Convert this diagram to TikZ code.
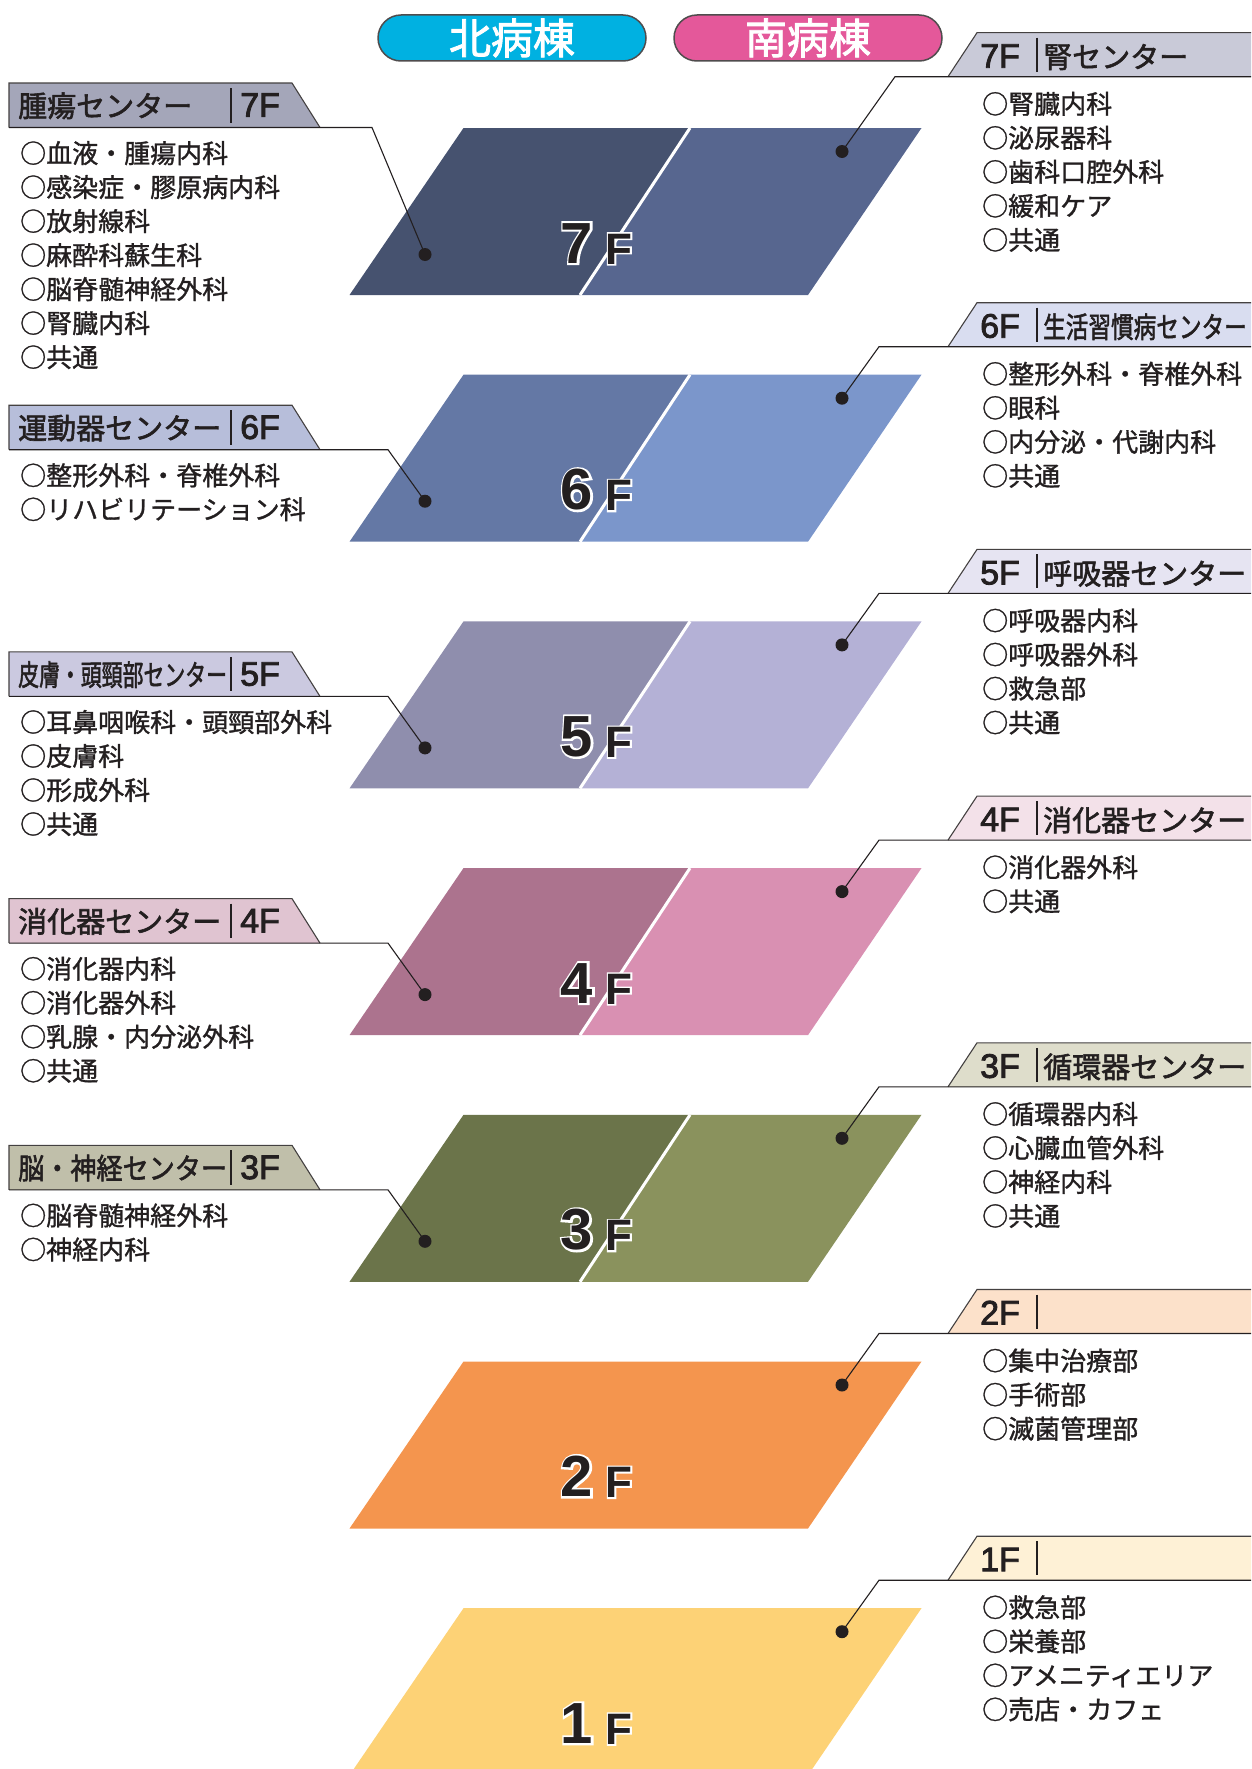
\documentclass[tikz,border=0pt]{standalone}
\usepackage{fontspec}
\usepackage{graphicx}
\setmainfont{Noto Sans CJK JP}
\newfontfamily\jpi{Noto Sans CJK JP}[FakeBold=1.2]
\newfontfamily\jpm{Noto Sans CJK JP}[FakeBold=2]
\newfontfamily\latf{Liberation Sans}[FakeBold=2.5]
\newfontfamily\digb{Liberation Sans Bold}
\newfontfamily\digw{Liberation Sans Bold}[FakeBold=7]
\usetikzlibrary{calc}

\definecolor{ink}{HTML}{231F20}
\definecolor{pblue}{HTML}{00B1E1}
\definecolor{ppink}{HTML}{E4589A}
\definecolor{f7L}{HTML}{46526F}\definecolor{f7R}{HTML}{57668F}
\definecolor{f6L}{HTML}{6478A5}\definecolor{f6R}{HTML}{7B96CB}
\definecolor{f5L}{HTML}{8F8EAD}\definecolor{f5R}{HTML}{B4B1D6}
\definecolor{f4L}{HTML}{AC738E}\definecolor{f4R}{HTML}{D990B2}
\definecolor{f3L}{HTML}{6B744A}\definecolor{f3R}{HTML}{8A925D}
\definecolor{f2}{HTML}{F4954E}
\definecolor{f1}{HTML}{FDD276}
\definecolor{b7L}{HTML}{A4A6B9}\definecolor{b7R}{HTML}{C9CAD8}
\definecolor{b6L}{HTML}{B7BEDA}\definecolor{b6R}{HTML}{D9DDF0}
\definecolor{b5L}{HTML}{CBC9E0}\definecolor{b5R}{HTML}{E6E4F2}
\definecolor{b4L}{HTML}{E0C4D1}\definecolor{b4R}{HTML}{F3E1E9}
\definecolor{b3L}{HTML}{C0BFAA}\definecolor{b3R}{HTML}{DEDDCB}
\definecolor{b2R}{HTML}{FCE1CA}
\definecolor{b1R}{HTML}{FEF1D6}

\newcommand\outl[1]{\makebox[0pt][l]{\digw\color{white}#1}\digb #1}

\newcommand\splitfloor[4]{%
  \fill[#3] (463.5,#1) -- (690,#1) -- (580,#2) -- (349.5,#2) -- cycle;
  \fill[#4] (690,#1) -- (921.5,#1) -- (808,#2) -- (580,#2) -- cycle;
  \draw[white,line width=3] (690,#1) -- (580,#2);}
\newcommand\wholefloor[3]{%
  \fill[#3] (463.5,#1) -- (921.5,#1) -- (808,#2) -- (349.5,#2) -- cycle;}

% id, top, bottom, bend x, dot y, fill, header text, floor text, items
\newcommand\leftgrp[9]{%
  \fill[#6] (9,#2) -- (292,#2) -- (320,#3) -- (9,#3) -- cycle;
  \draw[boxline] (320,#3) -- (292,#2) -- (9,#2) -- (9,#3);
  \coordinate (#1a) at (9,#3);
  \coordinate (#1b) at (320,#3);
  \coordinate (#1k) at (#4,#3);
  \node[fdot] (#1d) at (425,#5) {};
  \draw[conn] (#1a) -- (#1b) -- (#1k) -- (#1d.center);
  \pgfmathsetmacro\hb{(#2+#3)/2+11.5}
  \node[hdr] (#1h) at (18,\hb) {#7};
  \node[hdrlat] (#1f) at (240,\hb) {#8};
  \coordinate (#1u) at (231,#2+5);
  \coordinate (#1v) at (231,#3-5);
  \draw[vbar] (#1u) -- (#1v);
  \foreach \t [count=\i from 0] in {#9} {
    \pgfmathsetmacro\yy{#3+35.5+34*\i}
    \node[itm] (#1i\i) at (20,\yy) {○\t};
  }
}
% id, top, bottom, bend x, dot y, fill, floor text, header text, items
\newcommand\rightgrp[9]{%
  \fill[#6] (948,#3) -- (977,#2) -- (1260,#2) -- (1260,#3) -- cycle;
  \draw[boxline] (948,#3) -- (977,#2) -- (1260,#2);
  \coordinate (#1a) at (1260,#3);
  \coordinate (#1b) at (948,#3);
  \coordinate (#1k) at (#4,#3);
  \node[fdot] (#1d) at (842,#5) {};
  \draw[conn] (#1a) -- (#1b) -- (#1k) -- (#1d.center);
  \pgfmathsetmacro\hb{(#2+#3)/2+13}
  \node[hdrlat] (#1f) at (980,\hb) {#7};
  \coordinate (#1u) at (1037,#2+5);
  \coordinate (#1v) at (1037,#3-5);
  \draw[vbar] (#1u) -- (#1v);
  \node[hdr] (#1h) at (1043,\hb) {#8};
  \foreach \t [count=\i from 0] in {#9} {
    \pgfmathsetmacro\yy{#3+37+34*\i}
    \node[itm] (#1i\i) at (982,\yy) {○\t};
  }
}

\begin{document}
\begin{tikzpicture}[x=1pt,y=-1pt,
  hdr/.style={anchor=base west,inner sep=0,text=ink,font=\jpm\fontsize{29}{29}\selectfont},
  hdrlat/.style={anchor=base west,inner sep=0,text=ink,font=\latf\fontsize{34}{34}\selectfont},
  itm/.style={anchor=base west,inner sep=0,text=ink,font=\jpi\fontsize{26}{26}\selectfont},
  boxline/.style={draw=ink!85,line width=1.1},
  conn/.style={draw=ink,line width=1.1},
  vbar/.style={draw=ink,line width=1.8},
  fdot/.style={circle,fill=ink,inner sep=0,minimum size=13},
  pill/.style={draw=ink!80,line width=1.5,rounded corners=23,minimum width=268,minimum height=46,inner sep=0,text=white,font=\jpm\fontsize{42}{42}\selectfont},
  dig/.style={anchor=base,inner sep=0,text=ink,font=\fontsize{58}{58}\selectfont},
  fl/.style={anchor=base,inner sep=0,text=ink,font=\fontsize{44}{44}\selectfont}]
\useasboundingbox (0,0) rectangle (1251,1769);
\clip (0,0) rectangle (1251,1769);

% building headers
\node[pill,fill=pblue] (north) at (512,38) {北病棟};
\node[pill,fill=ppink] (south) at (808,38) {南病棟};

% floors
\splitfloor{128}{295}{f7L}{f7R}
\splitfloor{374.7}{541.7}{f6L}{f6R}
\splitfloor{621.4}{788.4}{f5L}{f5R}
\splitfloor{868.1}{1035.1}{f4L}{f4R}
\splitfloor{1114.8}{1281.8}{f3L}{f3R}
\wholefloor{1361.5}{1528.5}{f2}
\wholefloor{1608.2}{1775.2}{f1}

% floor numbers
\node[dig] (n7) at (577,263) {\outl{7}};      \node[fl] (m7) at (619,264) {\outl{F}};
\node[dig] (n6) at (577,509.7) {\outl{6}};    \node[fl] (m6) at (619,510.7) {\outl{F}};
\node[dig] (n5) at (577,756.4) {\outl{5}};    \node[fl] (m5) at (619,757.4) {\outl{F}};
\node[dig] (n4) at (577,1003.1) {\outl{4}};   \node[fl] (m4) at (619,1004.1) {\outl{F}};
\node[dig] (n3) at (577,1249.8) {\outl{3}};   \node[fl] (m3) at (619,1250.8) {\outl{F}};
\node[dig] (n2) at (577,1496.5) {\outl{2}};   \node[fl] (m2) at (619,1497.5) {\outl{F}};
\node[dig] (n1) at (577,1743.2) {\outl{1}};   \node[fl] (m1) at (619,1744.2) {\outl{F}};

% left (north ward) groups
\leftgrp{L7}{83}{127.5}{372}{254.5}{b7L}{腫瘍センター}{7F}{血液・腫瘍内科,感染症・膠原病内科,放射線科,麻酔科蘇生科,脳脊髄神経外科,腎臓内科,共通}
\leftgrp{L6}{405.2}{449.7}{388}{501.2}{b6L}{運動器センター}{6F}{整形外科・脊椎外科,リハビリテーション科}
\leftgrp{L5}{651.9}{696.4}{388}{747.9}{b5L}{\scalebox{0.72}[1]{皮膚・頭頸部センター}}{5F}{耳鼻咽喉科・頭頸部外科,皮膚科,形成外科,共通}
\leftgrp{L4}{898.6}{943.1}{388}{994.6}{b4L}{消化器センター}{4F}{消化器内科,消化器外科,乳腺・内分泌外科,共通}
\leftgrp{L3}{1145.3}{1189.8}{388}{1241.3}{b3L}{\scalebox{0.9}[1]{脳・神経センター}}{3F}{脳脊髄神経外科,神経内科}

% right (south ward) groups
\rightgrp{R7}{32.7}{76.7}{895}{151.5}{b7R}{7F}{腎センター}{腎臓内科,泌尿器科,歯科口腔外科,緩和ケア,共通}
\rightgrp{R6}{302.7}{346.7}{879}{398.2}{b6R}{6F}{\scalebox{0.78}[1]{生活習慣病センター}}{整形外科・脊椎外科,眼科,内分泌・代謝内科,共通}
\rightgrp{R5}{549.4}{593.4}{879}{644.9}{b5R}{5F}{呼吸器センター}{呼吸器内科,呼吸器外科,救急部,共通}
\rightgrp{R4}{796.1}{840.1}{879}{891.6}{b4R}{4F}{消化器センター}{消化器外科,共通}
\rightgrp{R3}{1042.8}{1086.8}{879}{1138.3}{b3R}{3F}{循環器センター}{循環器内科,心臓血管外科,神経内科,共通}
\rightgrp{R2}{1289.5}{1333.5}{879}{1385}{b2R}{2F}{}{集中治療部,手術部,滅菌管理部}
\rightgrp{R1}{1536.2}{1580.2}{879}{1631.7}{b1R}{1F}{}{救急部,栄養部,アメニティエリア,売店・カフェ}
\end{tikzpicture}
\end{document}
